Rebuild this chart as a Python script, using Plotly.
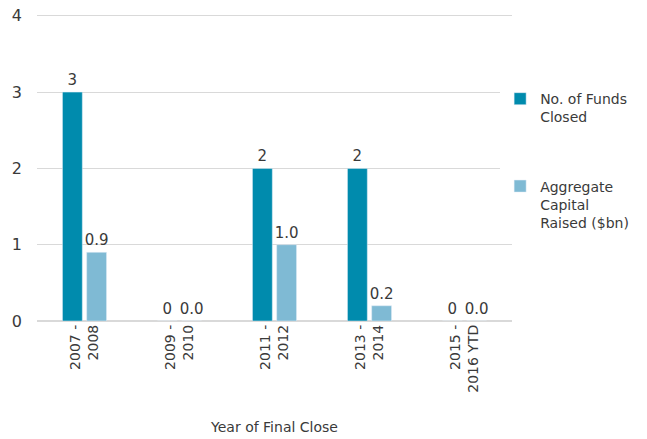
import plotly.graph_objects as go

categories = ["2007 -<br>2008", "2009 -<br>2010", "2011 -<br>2012", "2013 -<br>2014", "2015 -<br>2016 YTD"]
funds_closed = [3, 0, 2, 2, 0]
capital_raised = [0.9, 0.0, 1.0, 0.2, 0.0]

font_family = "DejaVu Sans, sans-serif"
text_color = "#3a3a3a"

fig = go.Figure()
fig.add_trace(go.Bar(
    x=categories, y=funds_closed, name="No. of Funds<br>Closed",
    marker_color="#008BAD", legendgroup="a",
    texttemplate="%{y:.0f}", textposition="outside", constraintext="none",
    textfont=dict(size=15, color=text_color), cliponaxis=False,
))
fig.add_trace(go.Bar(
    x=categories, y=capital_raised, name="Aggregate<br>Capital<br>Raised ($bn)",
    marker_color="#7FBAD4", legendgroup="b",
    texttemplate="%{y:.1f}", textposition="outside", constraintext="none",
    textfont=dict(size=15, color=text_color), cliponaxis=False,
))

fig.update_layout(
    width=647, height=439,
    margin=dict(l=37, r=135, t=12, b=118, autoexpand=False),
    paper_bgcolor="white", plot_bgcolor="white",
    font=dict(family=font_family, size=15, color=text_color),
    barmode="group", bargap=0.49, bargroupgap=0.18,
    showlegend=True,
    legend=dict(x=0.975, y=0.77, xanchor="left", yanchor="top",
                tracegroupgap=48, font=dict(size=14, color=text_color),
                itemwidth=30, traceorder="grouped", valign="top"),
    xaxis=dict(tickangle=-90, automargin=False,
               title=dict(text="Year of Final Close", font=dict(size=14), standoff=30),
               showline=False, ticks="", tickfont=dict(size=14)),
    yaxis=dict(range=[0, 4.05], dtick=1, showgrid=True, gridcolor="#d9d9d9", automargin=False,
               zeroline=True, zerolinecolor="#d9d9d9", ticks="", tickfont=dict(size=16),
               ticklabelstandoff=14),
)

fig.write_html("out.html", config={"displayModeBar": False},
               post_script="document.body.style.margin='0';document.body.style.padding='0';")
